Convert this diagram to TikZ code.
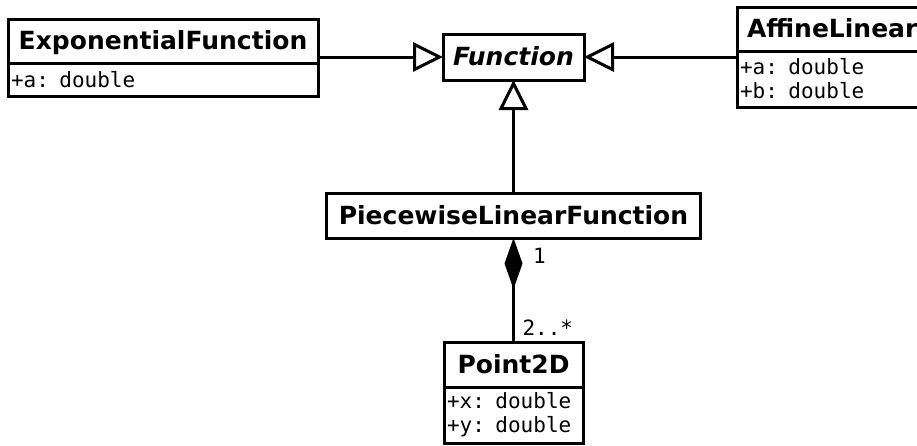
\documentclass[tikz,border=0pt]{standalone}
\usepackage{fontspec}
\usepackage{tikz}
\usetikzlibrary{arrows.meta,positioning}
\newfontfamily\umlsans{DejaVu Sans}
\newfontfamily\umlmono{DejaVu Sans Mono}

\begin{document}
\begin{tikzpicture}[x=1pt,y=-1pt,line width=3pt,
    classname/.style={draw,outer sep=0pt,inner xsep=10pt,text height=23pt,text depth=6pt,minimum height=44pt,font=\umlsans\bfseries\fontsize{25}{30}\selectfont},
    classattr/.style={draw,outer sep=0pt,inner sep=3pt,align=left,font=\umlmono\fontsize{21}{24}\selectfont},
    mult/.style={inner sep=0pt,font=\umlmono\fontsize{21}{24}\selectfont},
    inherit/.style={-{Triangle[open,length=30pt,width=29pt]}},
    composition/.style={-{Diamond[length=51pt,width=18pt]}}]
        \useasboundingbox (0,0) rectangle (917,445);
        \clip (0,0) rectangle (917,445);

        \node[classname,minimum width=141pt,minimum height=46pt] (functitle) at (513.5,57) {\itshape Function};
        \node[classname,minimum width=310pt] (exptitle) at (163,41) {ExponentialFunction};
        \node[classattr,text width=304pt,minimum height=33pt,below=0pt of exptitle] (expattr) {+a: double};
        \node[classname,anchor=west] (afftitle) at (737,29) {AffineLinearFunction};
        \node[classattr,text width=314pt,minimum height=56pt,below=0pt of afftitle.south west,anchor=north west] (affattr) {+a: double\\+b: double};
        \node[classname,minimum width=374pt,minimum height=45pt,below=113pt of functitle] (plftitle) {PiecewiseLinearFunction};
        \node[classname,minimum width=139pt,minimum height=45pt,below=104pt of plftitle] (pointtitle) {Point2D};
        \node[classattr,text width=133pt,minimum height=56pt,below=0pt of pointtitle] (pointattr) {+x: double\\+y: double};

        % generalisations
        \draw[inherit] (functitle.west -| expattr.east) -- (functitle.west);
        \draw[inherit] (functitle.east -| affattr.west) -- (functitle.east);
        \draw[inherit] (plftitle.north) -- (functitle.south);
        % composition
        \draw[composition] (pointtitle.north) -- (plftitle.south);
        \node[mult,anchor=north west] (multone) at ([xshift=18pt,yshift=-8.5pt]plftitle.south) {1};
        \node[mult,anchor=base west] (multmany) at ([xshift=7.5pt,yshift=7pt]pointtitle.north) {2..*};
    \end{tikzpicture}
\end{document}
